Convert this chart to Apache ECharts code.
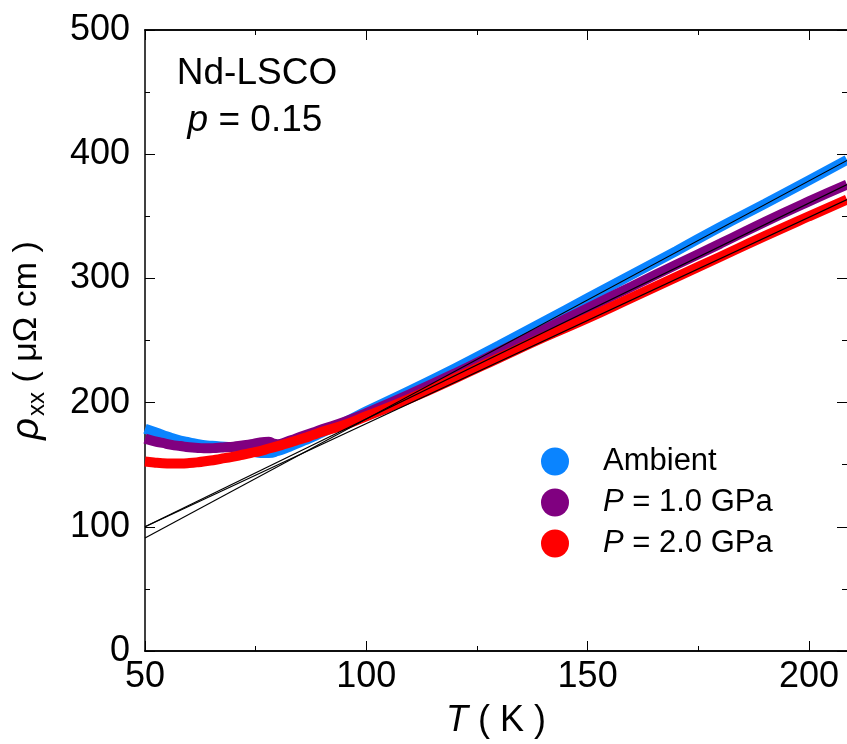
<!DOCTYPE html>
<html>
<head>
<meta charset="utf-8">
<script src="https://cdn.jsdelivr.net/npm/echarts@6/dist/echarts.min.js"></script>
<style>
html,body{margin:0;padding:0;background:#fff;}
#chart{width:847px;height:744px;}
</style>
</head>
<body>
<div id="chart"></div>
<script>
// ---- data ----
const ambientT = [50,52,54,56,58,60,62,64,66,68,70,72,74,76,78,80,82,84,86,88,90,95,100,110,120,130,140,150,160,170,180,190,200,208.6];
const ambientRho = [179,176.5,174,171.5,169.5,168,166.5,165.5,165,164.5,164,163,161,159.5,159.5,161,163.5,166.5,169.5,172.5,176,184,193,210,227.5,246,265,284,303,322,341.5,360,379,395.5];

const p1T = [50,52,54,56,58,60,62,64,66,68,70,72,74,76,78,79,80,82,84,86,88,90,95,100,110,120,130,140,150,160,170,180,190,200,208.6];
const p1Rho = [171,169,167.5,166,165,164,163.5,163.2,163.5,164,164.5,165.5,166.5,168,168.5,167,166.5,168.5,171,173.5,176,178.5,184.5,191.5,207,223.5,241,258.5,276,293.5,311,328,345.5,362,375.5];

const p2T = [50,52,54,56,58,60,62,64,66,68,70,72,74,76,78,80,82,84,86,88,90,95,100,110,120,130,140,150,160,170,180,190,200,208.6];
const p2Rho = [152.5,151.8,151.2,151,151,151.3,152,153,154,155.3,156.5,158,159.5,161,163,165,167,169.3,171.5,174,176.5,182,189,203.5,219.5,236,252.5,268,284.5,301,317.5,334,350,363.5];

const fitAmbientT = [50, 208.6];
const fitAmbientRho = [91, 395];
const fitP1T = [50, 208.6];
const fitP1Rho = [100, 375.5];
const fitP2T = [50, 208.6];
const fitP2Rho = [100, 363.4];

const seriesNames = ['Ambient', 'P = 1.0 GPa', 'P = 2.0 GPa'];

// ---- build ----
const pairs = (t, r) => t.map((v, i) => [v, r[i]]);
const FONT = '"Liberation Sans", Arial, sans-serif';
const xMin = 50, xMax = 208.6, yMin = 0, yMax = 500;

const chart = echarts.init(document.getElementById('chart'), null, {renderer: 'canvas'});

const axisLine = {show: true, lineStyle: {color: '#000', width: 1.5}};
function xAx(pos, interval, len, label, extra) {
  return Object.assign({
    type: 'value', position: pos, min: xMin, max: xMax, interval: interval,
    axisLine: axisLine,
    axisTick: {show: true, inside: true, length: len, lineStyle: {color: '#000', width: 1}},
    axisLabel: {show: label, color: '#000', fontSize: 36, fontFamily: FONT, margin: 8, showMaxLabel: false},
    splitLine: {show: false}
  }, extra || {});
}
function yAx(pos, label, extra) {
  return Object.assign({
    type: 'value', position: pos, min: yMin, max: yMax, interval: 100,
    axisLine: axisLine,
    axisTick: {show: true, inside: true, length: 10, lineStyle: {color: '#000', width: 1}},
    minorTick: {show: true, splitNumber: 2, length: 5, lineStyle: {color: '#000', width: 1}},
    axisLabel: {show: label, color: '#000', fontSize: 36, fontFamily: FONT, margin: 15},
    splitLine: {show: false}, minorSplitLine: {show: false}
  }, extra || {});
}

const option = {
  backgroundColor: '#fff',
  animation: false,
  grid: {left: 143, top: 30, right: -2, bottom: 93, containLabel: false},
  xAxis: [
    xAx('bottom', 50, 10, true, {
      name: '{i|T}{n| ( K )}', nameLocation: 'middle', nameGap: 52,
      nameTextStyle: {color: '#000', fontSize: 36, fontFamily: FONT,
        rich: {i: {fontStyle: 'italic', fontSize: 36, fontFamily: FONT, color: '#000'},
               n: {fontSize: 36, fontFamily: FONT, color: '#000'}}}
    }),
    xAx('bottom', 25, 5, false),
    xAx('top', 50, 10, false),
    xAx('top', 25, 5, false)
  ],
  yAxis: [
    yAx('left', true, {
      name: '{i|ρ}{s|xx}{n| ( μΩ cm )}', nameLocation: 'middle', nameGap: 96, nameRotate: 90,
      nameTextStyle: {color: '#000', fontSize: 34, fontFamily: FONT,
        rich: {i: {fontStyle: 'italic', fontSize: 38, fontFamily: FONT, color: '#000', lineHeight: 44, verticalAlign: 'middle'},
               s: {fontSize: 24, fontFamily: FONT, color: '#000', lineHeight: 44, verticalAlign: 'bottom', padding: [0, 0, 0, 2]},
               n: {fontSize: 34, fontFamily: FONT, color: '#000', lineHeight: 44, verticalAlign: 'middle'}}}
    }),
    yAx('right', false, {axisLine: {show: false}})
  ],
  legend: {
    orient: 'vertical', left: 536, top: 441,
    data: seriesNames, icon: 'circle', itemWidth: 28, itemHeight: 28, itemGap: 10,
    formatter: function (n) {
      if (n === 'Ambient') return '{n|Ambient}';
      return '{i|P}{n|' + n.slice(1) + '}';
    },
    textStyle: {color: '#000', fontSize: 31, fontFamily: FONT, padding: [0, 0, 0, 29],
      rich: {i: {fontStyle: 'italic', fontSize: 31, fontFamily: FONT, color: '#000'},
             n: {fontSize: 31, fontFamily: FONT, color: '#000'}}}
  },
  graphic: [
    {type: 'text', x: 257, y: 74, z: 100, style: {text: 'Nd-LSCO', fill: '#000', font: '37px ' + FONT, align: 'center', verticalAlign: 'middle'}},
    {type: 'text', x: 255, y: 121, z: 100, style: {
      text: '{i|p}{n| = 0.15}', align: 'center', verticalAlign: 'middle', fill: '#000',
      rich: {i: {fontStyle: 'italic', fontSize: 37, fontFamily: FONT, fill: '#000'},
             n: {fontSize: 37, fontFamily: FONT, fill: '#000'}}}}
  ],
  series: [
    {name: seriesNames[0], type: 'line', data: pairs(ambientT, ambientRho), showSymbol: false, smooth: true,
     color: '#0a84ff', lineStyle: {width: 10, color: '#0a84ff'}, xAxisIndex: 0, yAxisIndex: 0, z: 2},
    {name: seriesNames[1], type: 'line', data: pairs(p1T, p1Rho), showSymbol: false, smooth: true,
     color: '#800080', lineStyle: {width: 10, color: '#800080'}, xAxisIndex: 0, yAxisIndex: 0, z: 2},
    {name: seriesNames[2], type: 'line', data: pairs(p2T, p2Rho), showSymbol: false, smooth: true,
     color: '#ff0000', lineStyle: {width: 10, color: '#ff0000'}, xAxisIndex: 0, yAxisIndex: 0, z: 2},
    {name: 'fitA', type: 'line', data: pairs(fitAmbientT, fitAmbientRho), showSymbol: false,
     lineStyle: {width: 1.2, color: '#000'}, xAxisIndex: 0, yAxisIndex: 0, z: 3},
    {name: 'fitP1', type: 'line', data: pairs(fitP1T, fitP1Rho), showSymbol: false,
     lineStyle: {width: 1.2, color: '#000'}, xAxisIndex: 0, yAxisIndex: 0, z: 3},
    {name: 'fitP2', type: 'line', data: pairs(fitP2T, fitP2Rho), showSymbol: false,
     lineStyle: {width: 1.2, color: '#000'}, xAxisIndex: 0, yAxisIndex: 0, z: 3}
  ]
};
chart.setOption(option);
</script>
</body>
</html>
